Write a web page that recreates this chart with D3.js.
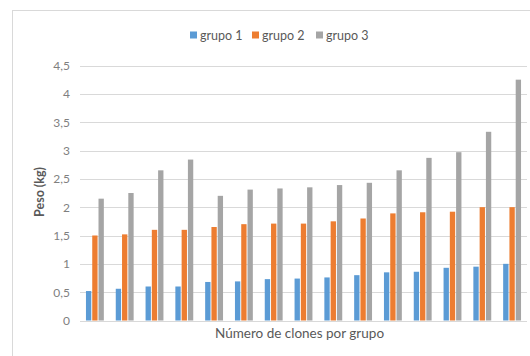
<!DOCTYPE html>
<html>
<head>
<meta charset="utf-8">
<script src="https://cdn.jsdelivr.net/npm/d3@7/dist/d3.min.js"></script>
<style>
  html, body { margin: 0; padding: 0; background: #fff; }
  svg { display: block; font-family: Lato, "Open Sans", sans-serif; }
</style>
</head>
<body>
<svg id="chart" width="530" height="356"></svg>
<script>
// Weight per clone, three groups
const categories = d3.range(1, 16).map(String);
const seriesNames = ["grupo 1", "grupo 2", "grupo 3"];
const grupo1 = [0.52, 0.56, 0.60, 0.60, 0.68, 0.69, 0.73, 0.74, 0.76, 0.80, 0.85, 0.86, 0.93, 0.95, 1.00];
const grupo2 = [1.50, 1.52, 1.60, 1.60, 1.65, 1.70, 1.71, 1.71, 1.75, 1.80, 1.89, 1.91, 1.92, 2.00, 2.00];
const grupo3 = [2.15, 2.25, 2.65, 2.84, 2.20, 2.31, 2.33, 2.35, 2.39, 2.43, 2.65, 2.87, 2.97, 3.33, 4.25];
const yTicks = [0, 0.5, 1, 1.5, 2, 2.5, 3, 3.5, 4, 4.5];
const colors = ["#5B9BD5", "#ED7D31", "#A5A5A5"];

const series = [grupo1, grupo2, grupo3];
const rows = categories.map((c, i) => ({ cat: c, values: series.map((s, j) => ({ key: seriesNames[j], value: s[i] })) }));

const svg = d3.select("#chart");

// chart frame
svg.append("rect")
  .attr("x", 12.5).attr("y", 10.5)
  .attr("width", 540).attr("height", 360)
  .attr("fill", "#fff").attr("stroke", "#D9D9D9");

const x0 = d3.scaleBand().domain(categories).range([80, 527]).paddingInner(0.4).paddingOuter(0.2);
const x1 = d3.scaleBand().domain(seriesNames).range([0, x0.bandwidth()]).paddingInner(0.15);
const y = d3.scaleLinear().domain([0, 4.5]).range([320.5, 65.5]);
const color = d3.scaleOrdinal().domain(seriesNames).range(colors);

// gridlines
svg.append("g")
  .selectAll("line")
  .data(yTicks)
  .join("line")
  .attr("x1", 80).attr("x2", 527)
  .attr("y1", d => Math.round(y(d)) + 0.5)
  .attr("y2", d => Math.round(y(d)) + 0.5)
  .attr("stroke", "#D9D9D9").attr("stroke-width", 1);

// y axis labels
const fmt = d => String(d).replace(".", ",");
const yAxis = d3.axisLeft(y).tickValues(yTicks).tickFormat(fmt).tickSize(0).tickPadding(0);
const gy = svg.append("g").attr("transform", "translate(70,0)").call(yAxis);
gy.select(".domain").remove();
gy.selectAll("text")
  .attr("fill", "#7F7F7F")
  .style("font-size", "12px")
  .style("font-family", "Lato, 'Open Sans', sans-serif");

// bars
svg.append("g")
  .selectAll("g")
  .data(rows)
  .join("g")
  .attr("transform", d => `translate(${x0(d.cat)},0)`)
  .selectAll("rect")
  .data(d => d.values)
  .join("rect")
  .attr("x", d => x1(d.key))
  .attr("width", x1.bandwidth())
  .attr("y", d => y(d.value))
  .attr("height", d => y(0) - y(d.value))
  .attr("fill", d => color(d.key));

// axis titles
svg.append("text")
  .attr("x", (80 + 527) / 2 - 4).attr("y", 338)
  .attr("text-anchor", "middle")
  .attr("fill", "#595959")
  .style("font-size", "13.5px")
  .text("Número de clones por grupo");

svg.append("text")
  .attr("transform", "translate(44,192) rotate(-90)")
  .attr("text-anchor", "middle")
  .attr("fill", "#595959")
  .style("font-size", "12.5px")
  .style("font-weight", "bold")
  .text("Peso (kg)");

// legend
const legendX = [190, 252, 316];
const legend = svg.append("g")
  .selectAll("g")
  .data(seriesNames)
  .join("g")
  .attr("transform", (d, i) => `translate(${legendX[i]},35)`);
legend.append("rect")
  .attr("x", 0).attr("y", -3.5).attr("width", 7).attr("height", 7)
  .attr("fill", d => color(d));
legend.append("text")
  .attr("x", 10).attr("y", 4.5)
  .attr("fill", "#595959")
  .style("font-size", "12.5px")
  .text(d => d);
</script>
</body>
</html>
